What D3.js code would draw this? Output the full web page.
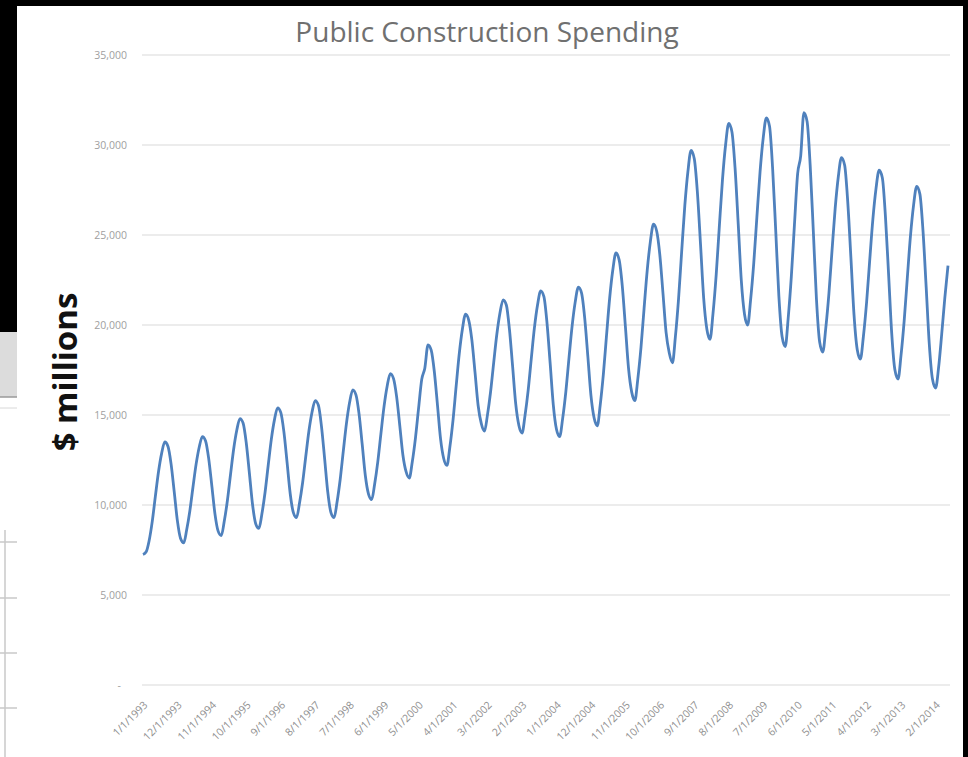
<!DOCTYPE html>
<html>
<head>
<meta charset="utf-8">
<script src="https://cdn.jsdelivr.net/npm/d3@7"></script>
<style>
  html, body { margin: 0; padding: 0; background: #000; }
  svg { display: block; }
</style>
</head>
<body>
<svg id="chart" width="968" height="757"></svg>
<script>
// ---- Data (monthly, $ millions, starting January 1993) ----
const startMonth = "1/1/1993";
const spending = [
  7250, 7400, 8000, 9090, 10480, 11860, 12870, 13500, 13250, 12270, 10700, 9130,      // 1993
  8140, 7900, 8610, 9670, 10970, 12270, 13210, 13800, 13560, 12590, 11050, 9510,      // 1994
  8550, 8300, 9080, 10250, 11680, 13110, 14150, 14800, 14540, 13460, 11750, 10040,    // 1995
  8960, 8700, 9500, 10710, 12180, 13660, 14730, 15400, 15130, 14060, 12350, 10640,    // 1996
  9580, 9300, 10080, 11250, 12680, 14110, 15150, 15800, 15540, 14370, 12550, 10730,   // 1997
  9580, 9300, 10150, 11430, 12990, 14550, 15690, 16400, 16120, 15060, 13350, 11640,   // 1998
  10610, 10300, 11140, 12400, 13940, 15480, 16600, 17300, 17020, 16020, 14400, 12780, // 1999
  11850, 11500, 12390, 13720, 15350, 16980, 17600, 18900, 18600, 17430, 15550, 13670, // 2000
  12570, 12200, 13210, 14720, 16570, 18420, 19760, 20600, 20260, 19170, 17350, 15530, // 2001
  14520, 14100, 14980, 16290, 17900, 19500, 20670, 21400, 21110, 19770, 17700, 15630, // 2002
  14420, 14000, 14950, 16370, 18110, 19850, 21110, 21900, 21580, 20120, 17850, 15580, // 2003
  14210, 13800, 14800, 16290, 18120, 19940, 21270, 22100, 21770, 20410, 18250, 16090, // 2004
  14830, 14400, 15550, 17280, 19390, 21500, 23040, 24000, 23620, 22200, 19900, 17600, // 2005
  16270, 15800, 16980, 18740, 20900, 23050, 24620, 25600, 25210, 23910, 21750, 19590, // 2006
  18440, 17900, 19320, 21440, 24040, 26630, 28520, 29700, 29230, 27390, 24450, 21510, // 2007
  19780, 19200, 20640, 22800, 25440, 28080, 30000, 31200, 30720, 28740, 25600, 22460, // 2008
  20600, 20000, 21380, 23450, 25980, 28510, 30350, 31500, 31040, 28710, 25150, 21590, // 2009
  19360, 18800, 20360, 22700, 25560, 28400, 29400, 31800, 31300, 28870, 25150, 21430, // 2010
  19060, 18500, 19800, 21740, 24120, 26490, 28220, 29300, 28870, 26840, 23700, 20560, // 2011
  18640, 18100, 19360, 21250, 23560, 25870, 27550, 28600, 28180, 26050, 22800, 19550, // 2012
  17510, 17000, 18280, 20210, 22560, 24920, 26630, 27700, 27270, 25240, 22100, 18960, // 2013
  17000, 16500, 17600, 19500, 21500, 23300                                            // 2014
];
const xTickLabels = [
  "1/1/1993", "12/1/1993", "11/1/1994", "10/1/1995", "9/1/1996", "8/1/1997",
  "7/1/1998", "6/1/1999", "5/1/2000", "4/1/2001", "3/1/2002", "2/1/2003",
  "1/1/2004", "12/1/2004", "11/1/2005", "10/1/2006", "9/1/2007", "8/1/2008",
  "7/1/2009", "6/1/2010", "5/1/2011", "4/1/2012", "3/1/2013", "2/1/2014"
];
const yTicks = [0, 5000, 10000, 15000, 20000, 25000, 30000, 35000];
const chartTitle = "Public Construction Spending";
const yAxisTitle = "$ millions";

// ---- Setup ----
const svg = d3.select("#chart");
const W = 968, H = 757;
const parse = d3.timeParse("%m/%d/%Y");
const start = parse(startMonth);
const series = spending.map((v, i) => ({ date: d3.timeMonth.offset(start, i), value: v }));

// Frame / photographed-screen background
svg.append("rect").attr("width", W).attr("height", H).attr("fill", "#000");
svg.append("rect").attr("x", 17).attr("y", 6).attr("width", 946).attr("height", H - 6).attr("fill", "#fff");
// left-side artifact (another window behind)
svg.append("rect").attr("x", 0).attr("y", 332).attr("width", 17).attr("height", 65).attr("fill", "#dcdcdc");
svg.append("rect").attr("x", 0).attr("y", 397).attr("width", 17).attr("height", H - 397).attr("fill", "#fff");
svg.append("line").attr("x1", 0).attr("x2", 17).attr("y1", 397).attr("y2", 397).attr("stroke", "#9a9a9a").attr("stroke-width", 1.5);
svg.append("line").attr("x1", 0).attr("x2", 17).attr("y1", 408).attr("y2", 408).attr("stroke", "#d8d8d8").attr("stroke-width", 1);
svg.append("line").attr("x1", 5).attr("x2", 5).attr("y1", 530).attr("y2", H).attr("stroke", "#c8c8c8").attr("stroke-width", 1.5);
[542, 598, 653, 708].forEach(y => {
  svg.append("line").attr("x1", 0).attr("x2", 17).attr("y1", y).attr("y2", y).attr("stroke", "#c8c8c8").attr("stroke-width", 1.5);
});

// ---- Scales ----
const plot = { left: 142, right: 950, top: 55, bottom: 685 };
const x = d3.scaleTime()
  .domain([series[0].date, series[series.length - 1].date])
  .range([plot.left + 1, plot.right - 2]);
const y = d3.scaleLinear().domain([0, 35000]).range([plot.bottom, plot.top]);

// ---- Gridlines ----
svg.append("g").selectAll("line").data(yTicks).join("line")
  .attr("x1", plot.left).attr("x2", plot.right)
  .attr("y1", d => y(d)).attr("y2", d => y(d))
  .attr("stroke", "#e6e6e6").attr("stroke-width", 1.5);

// ---- Y axis labels ----
const yAxis = d3.axisLeft(y).tickValues(yTicks).tickSize(0).tickPadding(0)
  .tickFormat(d => d === 0 ? "-" : d3.format(",")(d));
const yg = svg.append("g").attr("transform", `translate(127,0)`).call(yAxis);
yg.select(".domain").remove();
yg.selectAll("text")
  .attr("fill", "#a0a0a0")
  .style("font-family", "'Open Sans', sans-serif")
  .style("font-size", "10.5px")
  .attr("dx", d => d === 0 ? -6 : 0);

// ---- X axis labels ----
const xAxis = d3.axisBottom(x).tickValues(xTickLabels.map(parse)).tickSize(0)
  .tickFormat((d, i) => xTickLabels[i]);
const xg = svg.append("g").attr("transform", `translate(0,${plot.bottom + 16})`).call(xAxis);
xg.select(".domain").remove();
xg.selectAll("text")
  .attr("fill", "#8f8f8f")
  .style("font-family", "'Open Sans', sans-serif")
  .style("font-size", "10.5px")
  .attr("text-anchor", "end")
  .attr("dy", "0.35em")
  .attr("transform", "rotate(-45)");

// ---- Line ----
const line = d3.line().x(d => x(d.date)).y(d => y(d.value)).curve(d3.curveMonotoneX);
svg.append("path").datum(series)
  .attr("d", line)
  .attr("fill", "none")
  .attr("stroke", "#4f81bd")
  .attr("stroke-width", 2.8)
  .attr("stroke-linejoin", "round");

// ---- Titles ----
svg.append("text")
  .attr("x", 487).attr("y", 42)
  .attr("text-anchor", "middle")
  .attr("fill", "#707070")
  .style("font-family", "'Open Sans', sans-serif")
  .style("font-size", "28px")
  .text(chartTitle);

svg.append("text")
  .attr("transform", "translate(77,372) rotate(-90)")
  .attr("text-anchor", "middle")
  .attr("fill", "#111")
  .style("font-family", "'Open Sans', sans-serif")
  .style("font-weight", "bold")
  .style("font-size", "33px")
  .text(yAxisTitle);
</script>
</body>
</html>
